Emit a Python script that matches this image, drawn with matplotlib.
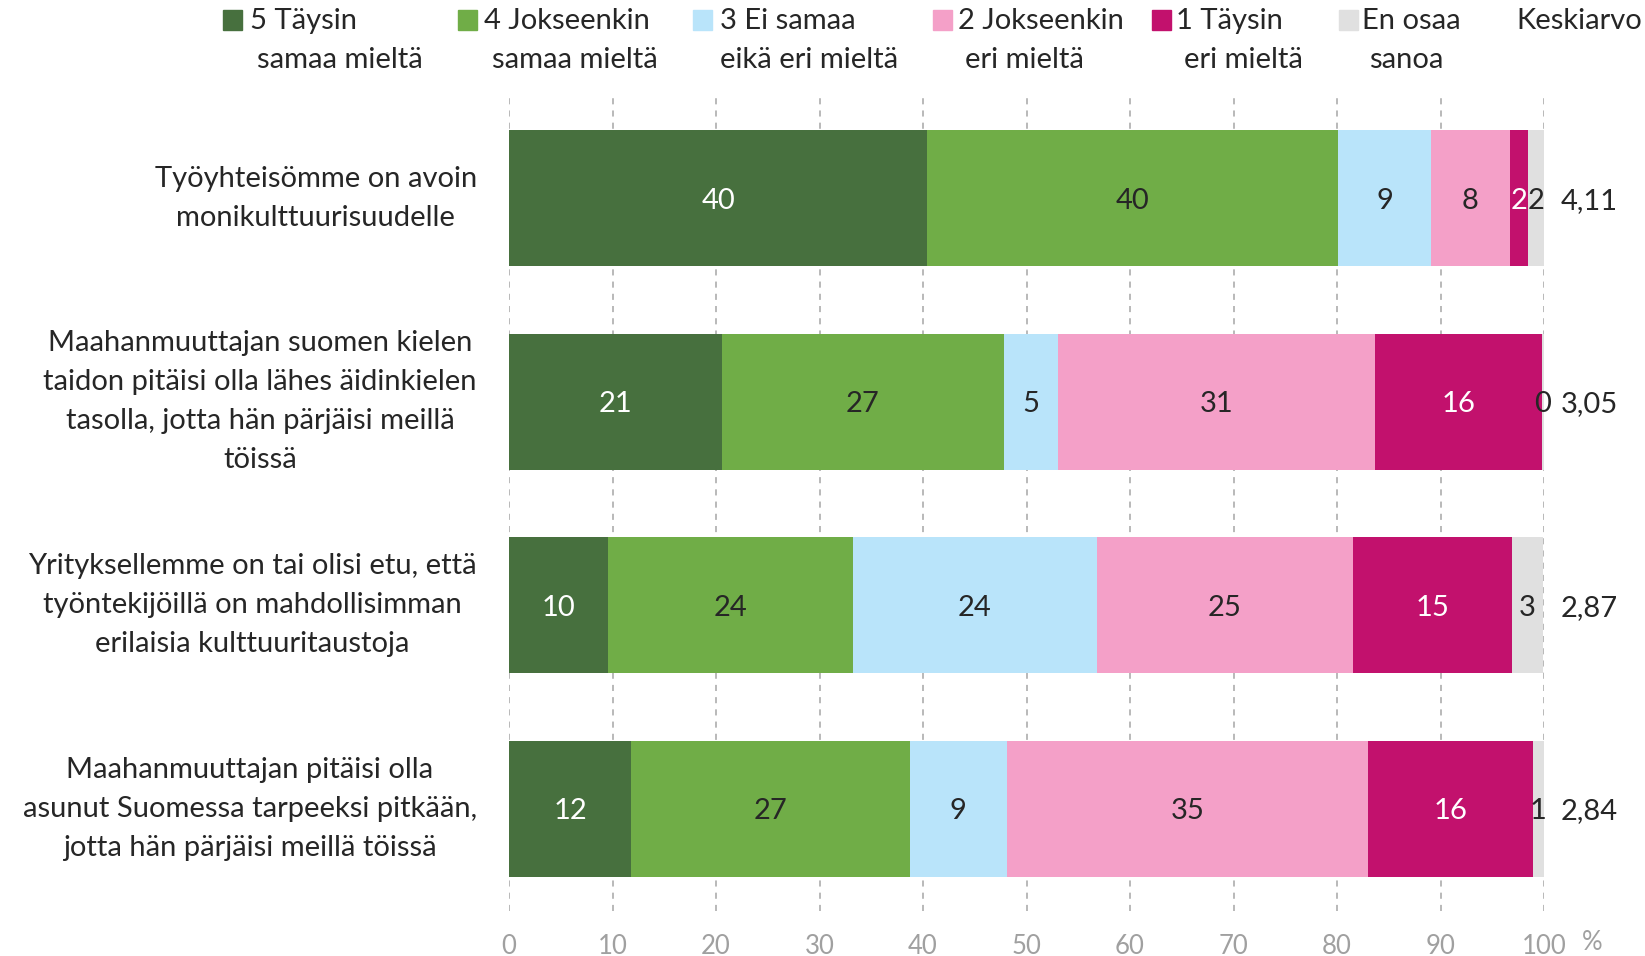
import matplotlib
matplotlib.use("Agg")
import matplotlib.pyplot as plt
from matplotlib.patches import Rectangle

plt.rcParams['font.family'] = ['Lato', 'DejaVu Sans']

# kysymykset (ylhäältä alas)
questions = [
    "Työyhteisömme on avoin\nmonikulttuurisuudelle",
    "Maahanmuuttajan suomen kielen\ntaidon pitäisi olla lähes äidinkielen\ntasolla, jotta hän pärjäisi meillä\ntöissä",
    "Yrityksellemme on tai olisi etu, että\ntyöntekijöillä on mahdollisimman\nerilaisia kulttuuritaustoja",
    "Maahanmuuttajan pitäisi olla\nasunut Suomessa tarpeeksi pitkään,\njotta hän pärjäisi meillä töissä",
]

legend_line1 = ["5 Täysin", "4 Jokseenkin", "3 Ei samaa", "2 Jokseenkin", "1 Täysin", "En osaa"]
legend_line2 = ["samaa mieltä", "samaa mieltä", "eikä eri mieltä", "eri mieltä", "eri mieltä", "sanoa"]

# osuudet (%)
s5 = [40.4, 20.6, 9.6, 11.8]
s4 = [39.7, 27.2, 23.6, 26.9]
s3 = [9.0, 5.2, 23.6, 9.4]
s2 = [7.6, 30.7, 24.7, 34.9]
s1 = [1.8, 16.1, 15.4, 15.9]
s0 = [1.5, 0.2, 3.0, 1.1]

# pyöristetyt arvot tarroissa
lab5 = [40, 21, 10, 12]
lab4 = [40, 27, 24, 27]
lab3 = [9, 5, 24, 9]
lab2 = [8, 31, 25, 35]
lab1 = [2, 16, 15, 16]
lab0 = [2, 0, 3, 1]

means = [4.11, 3.05, 2.87, 2.84]

colors = ['#47703E', '#70AD47', '#B9E4FA', '#F4A0C8', '#C2116D', '#E0E0E0']
text_colors = ['white', '#262626', '#262626', '#262626', 'white', '#262626']
dark = '#262626'
fs = 21

series = [s5, s4, s3, s2, s1, s0]
labels = [lab5, lab4, lab3, lab2, lab1, lab0]

W, H = 1645, 956
fig = plt.figure(figsize=(W / 100, H / 100), dpi=100)
ax = fig.add_axes([509 / W, 1 - 910.5 / H, 1035 / W, (910.5 - 96.5) / H])

ypos = list(range(len(questions)))
left = [0.0] * len(questions)
for vals, labs, col, tcol in zip(series, labels, colors, text_colors):
    ax.barh(ypos, vals, left=left, height=0.667, color=col, zorder=2)
    for i, (v, lab) in enumerate(zip(vals, labs)):
        ax.text(left[i] + v / 2, i, str(lab), ha='center', va='center_baseline',
                fontsize=fs, color=tcol, zorder=3)
    left = [l + v for l, v in zip(left, vals)]

for i, m in enumerate(means):
    ax.text(101.6, i, ('%.2f' % m).replace('.', ','), ha='left', va='center_baseline',
            fontsize=fs, color=dark, clip_on=False)

for i, q in enumerate(questions):
    ax.text(-0.031, i, q, transform=ax.get_yaxis_transform(), ha='right',
            va='center', multialignment='center', fontsize=fs, color=dark,
            linespacing=1.62)

ax.set_xlim(0, 100)
ax.set_ylim(3.5, -0.5)
ax.set_xticks(range(0, 101, 10))
ax.set_yticks([])
ax.tick_params(axis='x', length=0, pad=17, labelsize=18.5, labelcolor='#A0A0A0')
ax.xaxis.grid(True, linestyle=(0, (4, 4)), color='#A6A6A6', linewidth=1.1, zorder=0)
ax.set_axisbelow(True)
for sp in ax.spines.values():
    sp.set_visible(False)
fig.text(1592 / W, 1 - 942 / H, '%', ha='center', va='center',
         fontsize=18.5, color='#A0A0A0')

# selite
marker_x = [223, 458, 693, 933, 1152, 1339]
text_x = [250, 484, 720, 958, 1176, 1362]
line2_x = [257, 492, 720, 965, 1184, 1369]
msz = 19
for mx, tx, t2x, l1, l2, col in zip(marker_x, text_x, line2_x, legend_line1, legend_line2, colors):
    fig.patches.append(Rectangle((mx / W, 1 - 29.5 / H), msz / W, msz / H,
                                 transform=fig.transFigure, color=col))
    fig.text(tx / W, 1 - 21 / H, l1, ha='left', va='center', fontsize=fs, color=dark)
    fig.text(t2x / W, 1 - 60 / H, l2, ha='left', va='center', fontsize=fs, color=dark)
fig.text(1516 / W, 1 - 21 / H, 'Keskiarvo', ha='left', va='center', fontsize=fs, color=dark)

fig.savefig('out.png', dpi=100)
